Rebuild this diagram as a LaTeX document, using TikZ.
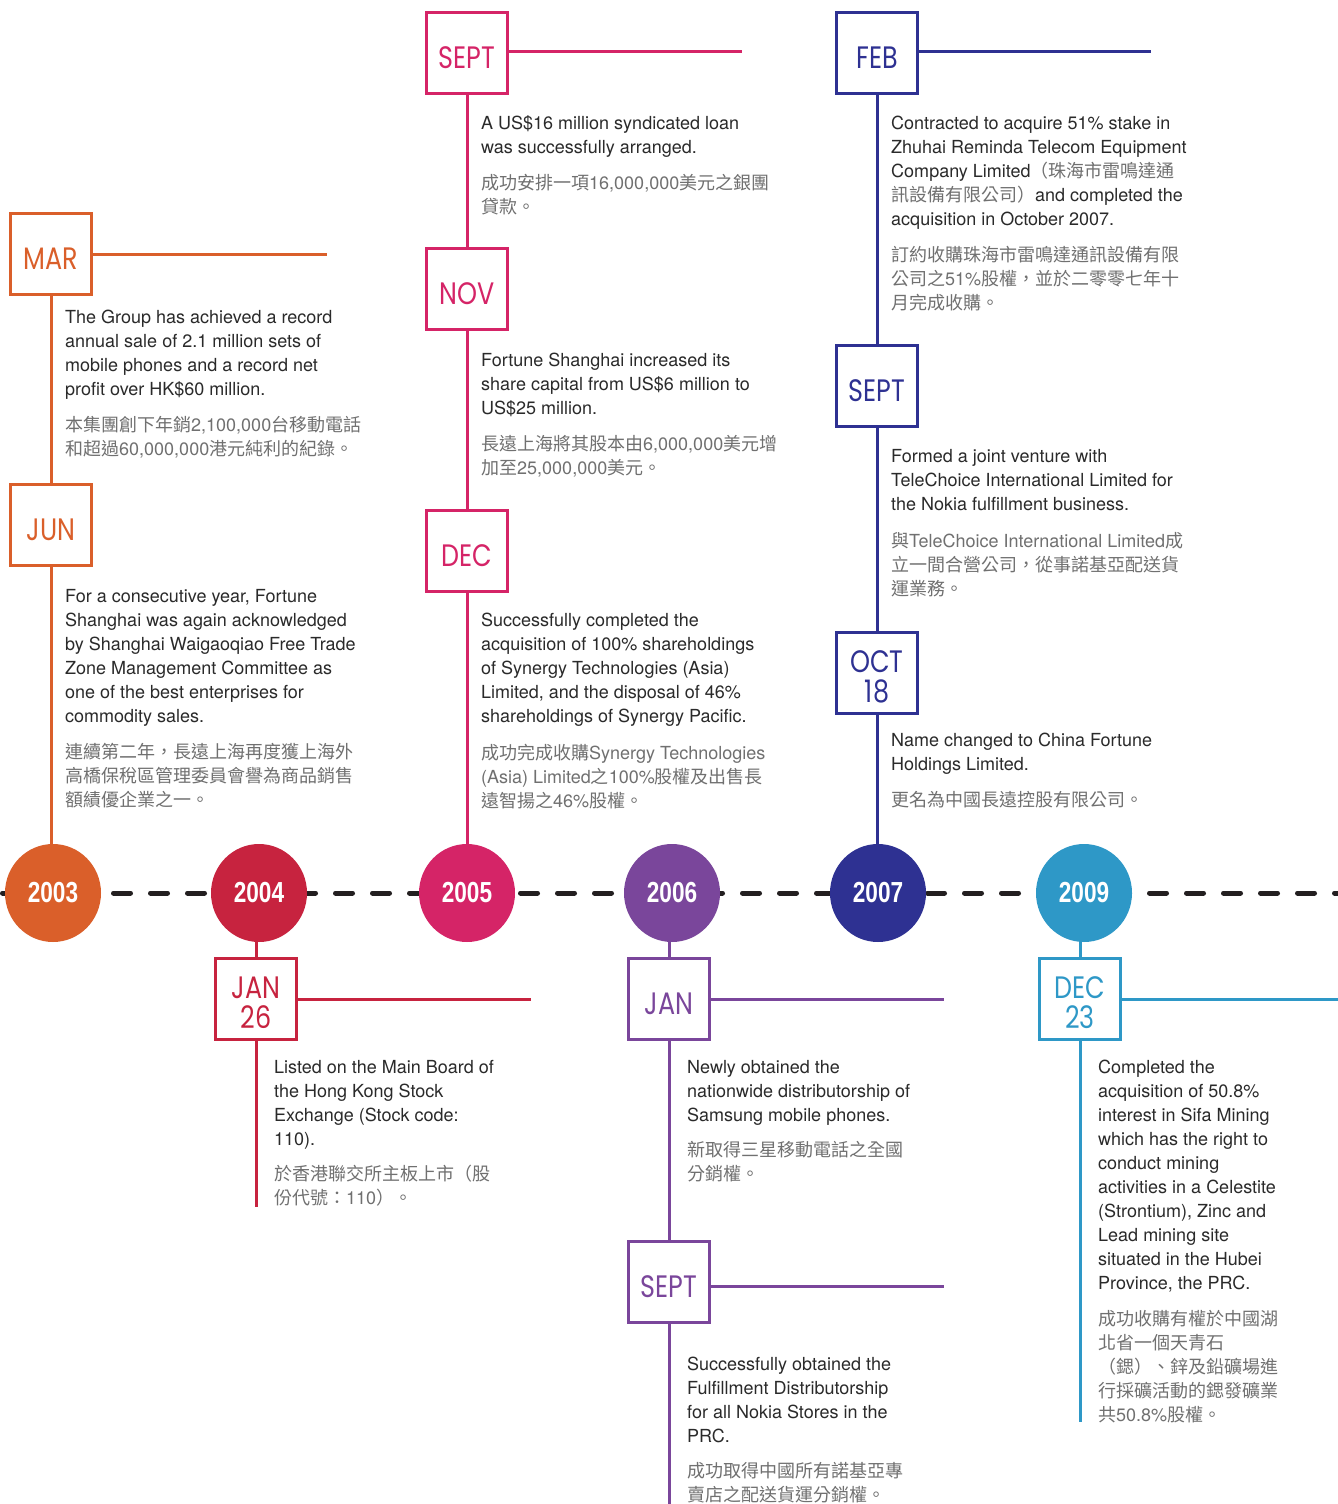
\documentclass[tikz,border=0pt]{standalone}
\usepackage{fontspec}
\usepackage{graphicx}
\usetikzlibrary{shapes.geometric}
\setmainfont{TeX Gyre Heros}
\newfontfamily\cjk{Noto Sans CJK TC}
\newfontfamily\latf{TeX Gyre Heros}
\newfontfamily\monthfont{Poppins}
\newfontfamily\yearfont{Liberation Sans}
\newcommand\mx[1]{\scalebox{0.82}[1]{#1}}
\newcommand\yx[1]{\scalebox{0.78}[1]{\bfseries #1}}
\newcommand\zh[1]{{\cjk\color{zhtext}#1}}
\newcommand\lat[1]{{\latf #1}}
\definecolor{cA}{HTML}{DA5F2A}
\definecolor{cB}{HTML}{C7233F}
\definecolor{cC}{HTML}{D52467}
\definecolor{cD}{HTML}{7A469B}
\definecolor{cE}{HTML}{2E3192}
\definecolor{cF}{HTML}{2E98C7}
\definecolor{entext}{HTML}{2A2A2A}
\definecolor{zhtext}{HTML}{707070}
\definecolor{dashc}{HTML}{231F20}
\tikzset{
  mbox/.style={draw, line width=3pt, fill=white, minimum width=81pt, minimum height=81pt, inner sep=0pt, align=center, text height=30pt, text depth=0pt, font=\monthfont\fontsize{31}{30}\selectfont},
  mbox2/.style={mbox, text height=58pt},
  yr/.style={ellipse, minimum width=96pt, minimum height=98pt, inner sep=0pt, text=white, font=\yearfont\fontsize{29}{29}\selectfont},
  en/.style={anchor=base west, inner sep=0pt, align=left, text=entext, font=\fontsize{18}{24}\selectfont},
  zhp/.style={anchor=base west, inner sep=0pt, align=left, text=zhtext, font=\cjk\fontsize{18}{24}\selectfont},
  conn/.style={line width=3pt},
  tline/.style={line width=5pt, dash pattern=on 17pt off 20pt, line cap=round, draw=dashc}
}
\begin{document}
\begin{tikzpicture}[x=1pt,y=-1pt]
\fill[white] (0,0) rectangle (1338,1504);
\useasboundingbox (0,0) rectangle (1338,1504);
% timeline
\coordinate (tl) at (2.5,893);
\coordinate (tr) at (1338,893);
\draw[tline] (tl) -- (tr);
% year circles
\node[yr, fill=cA] (y3) at (53,893) {\yx{2003}};
\node[yr, fill=cB] (y4) at (259,893) {\yx{2004}};
\node[yr, fill=cC] (y5) at (467,893) {\yx{2005}};
\node[yr, fill=cD] (y6) at (672,893) {\yx{2006}};
\node[yr, fill=cE] (y7) at (878,893) {\yx{2007}};
\node[yr, fill=cF] (y9) at (1084,893) {\yx{2009}};
% month boxes
\node[mbox, draw=cA, text=cA] (mar) at (51,254) {\mx{MAR}};
\node[mbox, draw=cA, text=cA] (jun) at (51,525) {\mx{JUN}};
\node[mbox2, draw=cB, text=cB] (jan4) at (256,999) {\mx{JAN}\\\mx{26}};
\node[mbox, draw=cC, text=cC] (sep5) at (467,53) {\mx{SEPT}};
\node[mbox, draw=cC, text=cC] (nov5) at (467,289) {\mx{NOV}};
\node[mbox, draw=cC, text=cC] (dec5) at (467,551) {\mx{DEC}};
\node[mbox, draw=cD, text=cD] (jan6) at (669,999) {\mx{JAN}};
\node[mbox, draw=cD, text=cD] (sep6) at (669,1282) {\mx{SEPT}};
\node[mbox, draw=cE, text=cE] (feb7) at (877,53) {\mx{FEB}};
\node[mbox, draw=cE, text=cE] (sep7) at (877,386) {\mx{SEPT}};
\node[mbox2, draw=cE, text=cE] (oct7) at (877,673) {\mx{OCT}\\\mx{18}};
\node[mbox2, draw=cF, text=cF] (dec9) at (1080,999) {\mx{DEC}\\\mx{23}};
% free ends
\coordinate (marE) at (327,254);
\coordinate (sep5E) at (742,52);
\coordinate (feb7E) at (1151,52);
\coordinate (jan4E) at (531,999);
\coordinate (jan6E) at (944,999);
\coordinate (sep6E) at (944,1286);
\coordinate (dec9E) at (1338,999);
\coordinate (b4) at (256,1207);
\coordinate (b6) at (669,1504);
\coordinate (b9) at (1080,1422);
% connectors 2003
\draw[conn, cA] (mar.east |- marE) -- (marE);
\draw[conn, cA] (mar.south) -- (jun.north);
\draw[conn, cA] (jun.south) -- (jun.south |- y3.north);
% 2004
\draw[conn, cB] (jan4.north |- y4.south) -- (jan4.north);
\draw[conn, cB] (jan4.east |- jan4E) -- (jan4E);
\draw[conn, cB] (jan4.south) -- (b4);
% 2005
\draw[conn, cC] (sep5.east |- sep5E) -- (sep5E);
\draw[conn, cC] (sep5.south) -- (nov5.north);
\draw[conn, cC] (nov5.south) -- (dec5.north);
\draw[conn, cC] (dec5.south) -- (dec5.south |- y5.north);
% 2006
\draw[conn, cD] (jan6.north |- y6.south) -- (jan6.north);
\draw[conn, cD] (jan6.east |- jan6E) -- (jan6E);
\draw[conn, cD] (jan6.south) -- (sep6.north);
\draw[conn, cD] (sep6.east |- sep6E) -- (sep6E);
\draw[conn, cD] (sep6.south) -- (b6);
% 2007
\draw[conn, cE] (feb7.east |- feb7E) -- (feb7E);
\draw[conn, cE] (feb7.south) -- (sep7.north);
\draw[conn, cE] (sep7.south) -- (oct7.north);
\draw[conn, cE] (oct7.south) -- (oct7.south |- y7.north);
% 2009
\draw[conn, cF] (dec9.north |- y9.south) -- (dec9.north);
\draw[conn, cF] (dec9.east |- dec9E) -- (dec9E);
\draw[conn, cF] (dec9.south) -- (b9);
% texts 2003 (anchor = baseline of last line)
\node[en] (tmarE) at (65,395) {The Group has achieved a record\\annual sale of 2.1 million sets of\\mobile phones and a record net\\profit over HK\$60 million.};
\node[zhp] (tmarC) at (65,455) {本集團創下年銷\lat{2,100,000}台移動電話\\和超過\lat{60,000,000}港元純利的紀錄。};
\node[en] (tjunE) at (65,722) {For a consecutive year, Fortune\\Shanghai was again acknowledged\\by Shanghai Waigaoqiao Free Trade\\Zone Management Committee as\\one of the best enterprises for\\commodity sales.};
\node[zhp] (tjunC) at (65,806) {連續第二年，長遠上海再度獲上海外\\高橋保稅區管理委員會譽為商品銷售\\額績優企業之一。};
% 2004
\node[en] (tjan4E) at (274,1145) {Listed on the Main Board of\\the Hong Kong Stock\\Exchange (Stock code:\\110).};
\node[zhp] (tjan4C) at (274,1204) {於香港聯交所主板上市（股\\份代號：\lat{110}）。};
% 2005
\node[en] (tsep5E) at (481,153) {A US\$16 million syndicated loan\\was successfully arranged.};
\node[zhp] (tsep5C) at (481,213) {成功安排一項\lat{16,000,000}美元之銀團\\貸款。};
\node[en] (tnov5E) at (481,414) {Fortune Shanghai increased its\\share capital from US\$6 million to\\US\$25 million.};
\node[zhp] (tnov5C) at (481,474) {長遠上海將其股本由\lat{6,000,000}美元增\\加至\lat{25,000,000}美元。};
\node[en] (tdec5E) at (481,722) {Successfully completed the\\acquisition of 100\% shareholdings\\of Synergy Technologies (Asia)\\Limited, and the disposal of 46\%\\shareholdings of Synergy Pacific.};
\node[zhp] (tdec5C) at (481,807) {成功完成收購\lat{Synergy Technologies}\\\lat{(Asia) Limited}之\lat{100\%}股權及出售長\\遠智揚之\lat{46\%}股權。};
% 2006
\node[en] (tjan6E) at (687,1121) {Newly obtained the\\nationwide distributorship of\\Samsung mobile phones.};
\node[zhp] (tjan6C) at (687,1180) {新取得三星移動電話之全國\\分銷權。};
\node[en] (tsep6E) at (687,1442) {Successfully obtained the\\Fulfillment Distributorship\\for all Nokia Stores in the\\PRC.};
\node[zhp] (tsep6C) at (687,1501) {成功取得中國所有諾基亞專\\賣店之配送貨運分銷權。};
% 2007
\node[en] (tfeb7E) at (891,225) {Contracted to acquire 51\% stake in\\Zhuhai Reminda Telecom Equipment\\Company Limited\zh{（珠海市雷鳴達通}\\\zh{訊設備有限公司）}and completed the\\acquisition in October 2007.};
\node[zhp] (tfeb7C) at (891,309) {訂約收購珠海市雷鳴達通訊設備有限\\公司之\lat{51\%}股權，並於二零零七年十\\月完成收購。};
\node[en] (tsep7E) at (891,510) {Formed a joint venture with\\TeleChoice International Limited for\\the Nokia fulfillment business.};
\node[zhp] (tsep7C) at (891,595) {與\lat{TeleChoice International Limited}成\\立一間合營公司，從事諾基亞配送貨\\運業務。};
\node[en] (toct7E) at (891,770) {Name changed to China Fortune\\Holdings Limited.};
\node[zhp] (toct7C) at (891,806) {更名為中國長遠控股有限公司。};
% 2009
\node[en] (tdec9E) at (1098,1289) {Completed the\\acquisition of 50.8\%\\interest in Sifa Mining\\which has the right to\\conduct mining\\activities in a Celestite\\(Strontium), Zinc and\\Lead mining site\\situated in the Hubei\\Province, the PRC.};
\node[zhp] (tdec9C) at (1098,1421) {成功收購有權於中國湖\\北省一個天青石\\（鍶）、鋅及鉛礦場進\\行採礦活動的鍶發礦業\\共\lat{50.8\%}股權。};
\end{tikzpicture}
\end{document}
